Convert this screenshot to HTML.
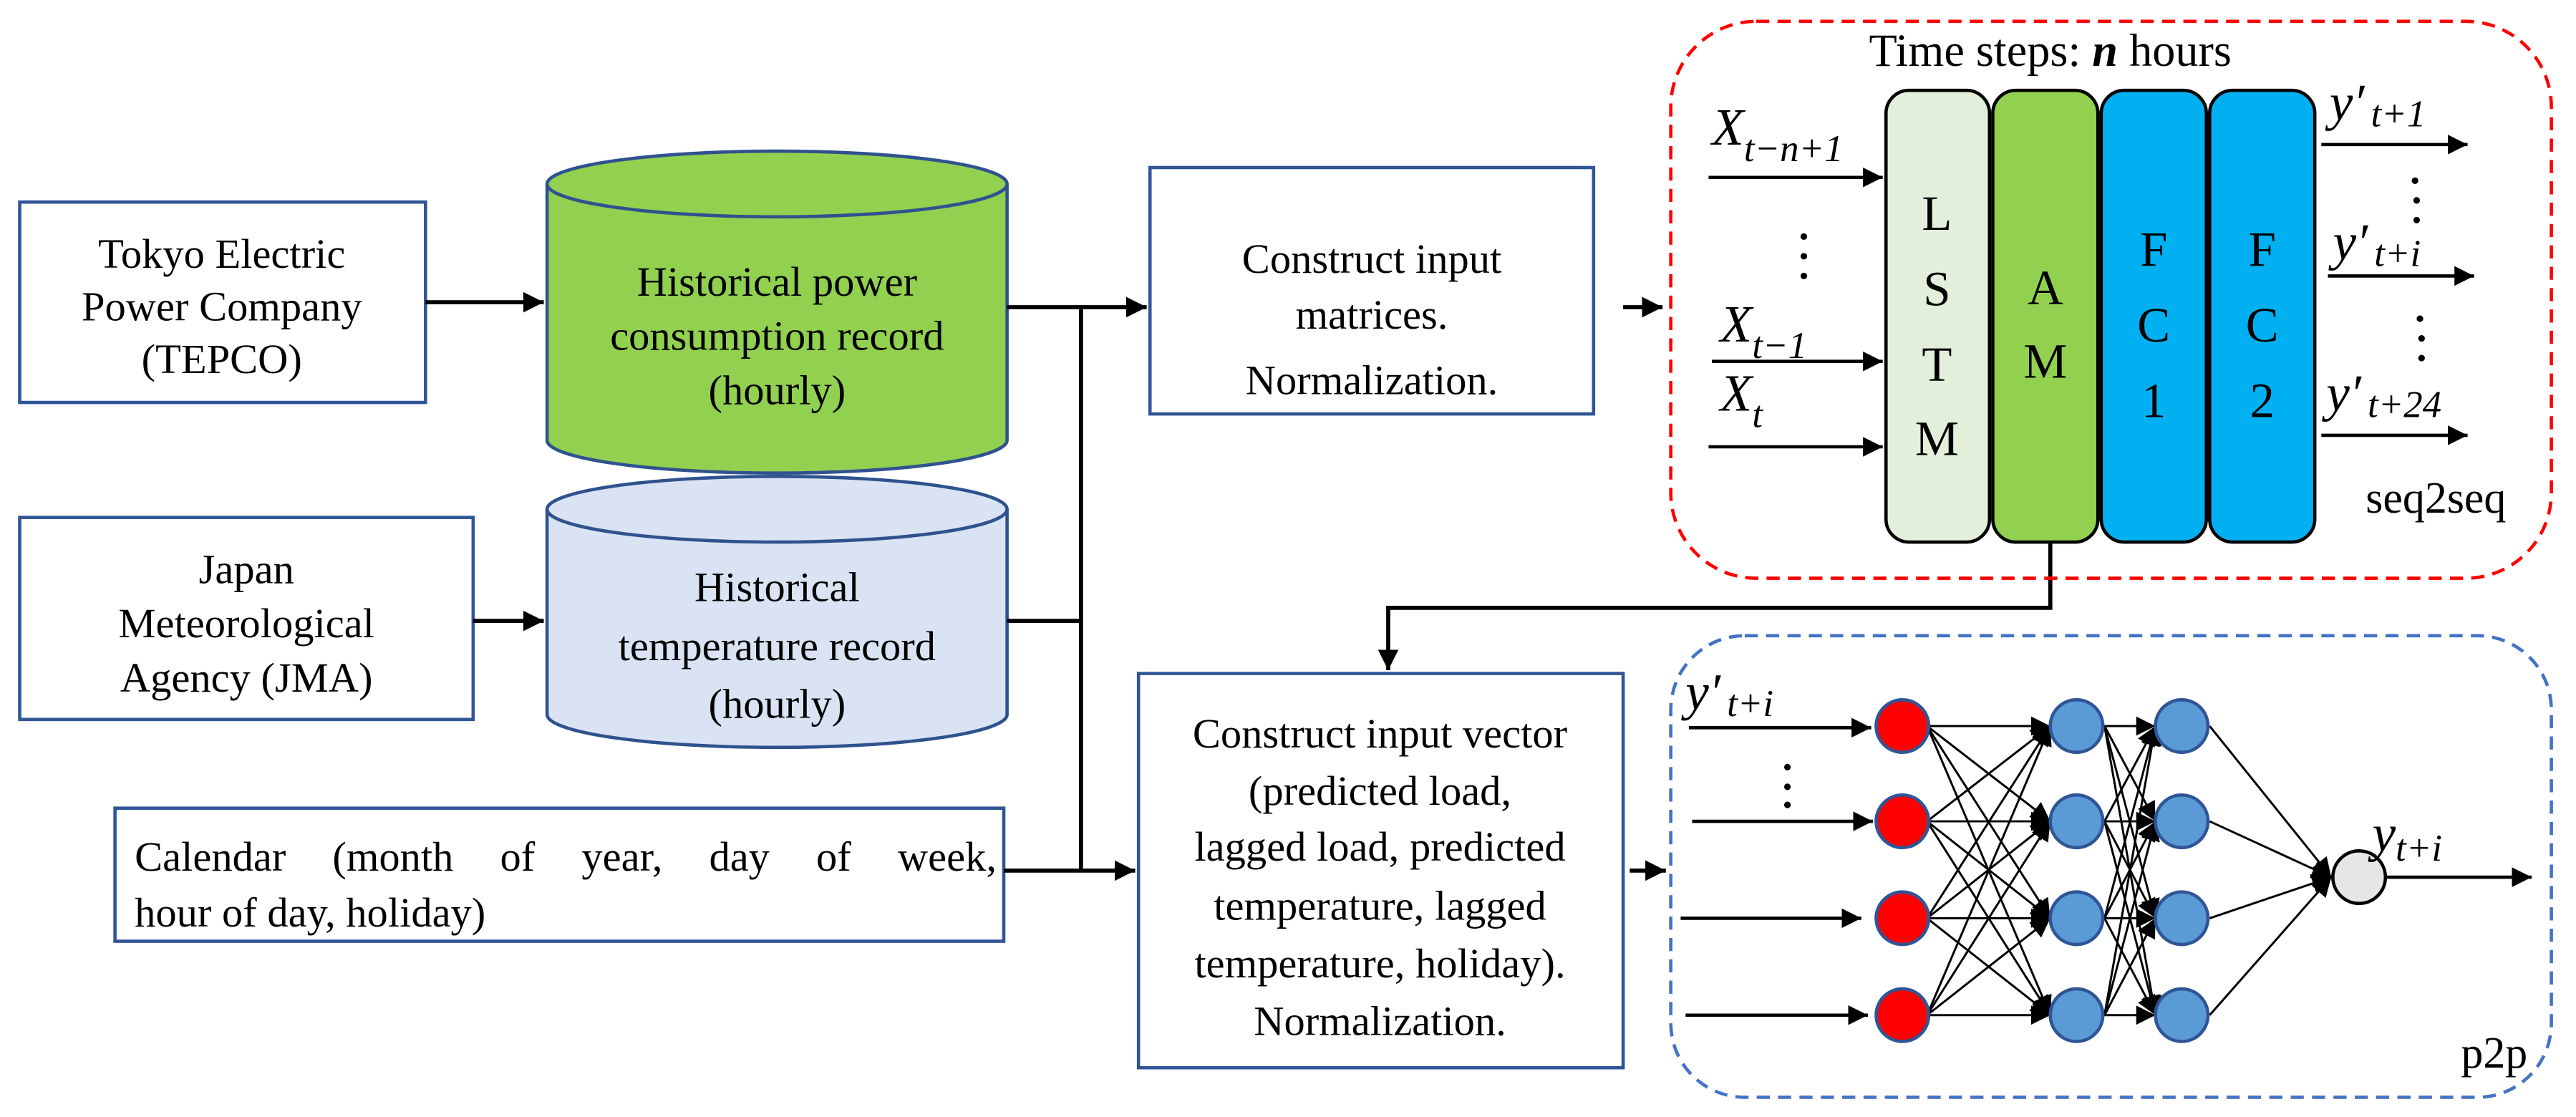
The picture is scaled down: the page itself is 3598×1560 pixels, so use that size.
<!DOCTYPE html>
<html><head><meta charset="utf-8"><style>
html,body{margin:0;padding:0;background:#fff;}
svg{display:block;}
text{font-family:"Liberation Serif",serif;fill:#000;}
.t{font-size:25.5px;}
.m{font-style:italic;font-size:32px;}
.s{font-style:italic;font-size:23px;}
</style></head><body>
<svg width="3598" height="1560" viewBox="0 0 1568 680" preserveAspectRatio="none" xmlns="http://www.w3.org/2000/svg">
<defs>
<marker id="a" viewBox="0 0 10 10" refX="10" refY="5" markerWidth="5" markerHeight="5" orient="auto" markerUnits="strokeWidth"><path d="M0,0L10,5L0,10z" fill="#000"/></marker>
<marker id="c" viewBox="0 0 10 10" refX="10" refY="5" markerWidth="6" markerHeight="6" orient="auto" markerUnits="strokeWidth"><path d="M0,0L10,5L0,10z" fill="#000"/></marker>
<marker id="b" viewBox="0 0 10 10" refX="10" refY="5" markerWidth="9" markerHeight="9" orient="auto" markerUnits="strokeWidth"><path d="M0,0L10,5L0,10z" fill="#000"/></marker>
</defs>
<rect width="1568" height="680" fill="#fff"/>
<g fill="#fff" stroke="#2f5597" stroke-width="2">
<rect x="12" y="123" width="247" height="122"/>
<rect x="12" y="315" width="276" height="123"/>
<rect x="70" y="492" width="541" height="81"/>
<rect x="700" y="102" width="270" height="150"/>
<rect x="693" y="410" width="295" height="240"/>
</g>
<g class="t" text-anchor="middle">
<text x="135" y="163">Tokyo Electric</text><text x="135" y="195">Power Company</text><text x="135" y="227">(TEPCO)</text>
<text x="150" y="355">Japan</text><text x="150" y="388">Meteorological</text><text x="150" y="421">Agency (JMA)</text>
<text x="835" y="166">Construct input</text><text x="835" y="200">matrices.</text><text x="835" y="240">Normalization.</text>
<text x="840" y="455">Construct input vector</text><text x="840" y="490">(predicted load,</text><text x="840" y="524">lagged load, predicted</text><text x="840" y="560">temperature, lagged</text><text x="840" y="595">temperature, holiday).</text><text x="840" y="630">Normalization.</text>
</g>
<text class="t" x="82" y="530" word-spacing="22">Calendar (month of year, day of week,</text>
<text class="t" x="82" y="564">hour of day, holiday)</text>
<!-- cylinders -->
<path d="M333,112 V268 A140,20 0 0 0 613,268 V112" fill="#92d050" stroke="#2f528f" stroke-width="2"/>
<ellipse cx="473" cy="112" rx="140" ry="20" fill="#92d050" stroke="#2f528f" stroke-width="2"/>
<path d="M333,310 V435 A140,20 0 0 0 613,435 V310" fill="#dae3f3" stroke="#2f528f" stroke-width="2"/>
<ellipse cx="473" cy="310" rx="140" ry="20" fill="#dae3f3" stroke="#2f528f" stroke-width="2"/>
<g class="t" text-anchor="middle">
<text x="473" y="180">Historical power</text><text x="473" y="213">consumption record</text><text x="473" y="246">(hourly)</text>
<text x="473" y="366">Historical</text><text x="473" y="402">temperature record</text><text x="473" y="437">(hourly)</text>
</g>
<!-- connectors -->
<g stroke="#000" stroke-width="2.5" fill="none">
<line x1="259" y1="184" x2="331" y2="184" marker-end="url(#a)"/>
<line x1="288" y1="378" x2="331" y2="378" marker-end="url(#a)"/>
<line x1="613" y1="187" x2="698" y2="187" marker-end="url(#a)"/>
<line x1="658" y1="187" x2="658" y2="530"/>
<line x1="613" y1="378" x2="658" y2="378"/>
<line x1="611" y1="530" x2="691" y2="530" marker-end="url(#a)"/>
<line x1="988" y1="187" x2="1012" y2="187" marker-end="url(#a)"/>
<polyline points="1248,330 1248,370 845,370 845,408" marker-end="url(#a)"/>
<line x1="992" y1="530" x2="1014" y2="530" marker-end="url(#a)"/>
</g>
<!-- dashed boxes -->
<rect x="1017" y="13" width="536" height="339" rx="52" fill="none" stroke="#ff0000" stroke-width="2" stroke-dasharray="8,5"/>
<rect x="1017" y="387" width="536" height="281" rx="45" fill="none" stroke="#4472c4" stroke-width="2" stroke-dasharray="8,5"/>
<!-- seq2seq -->
<text x="1248" y="40" text-anchor="middle" style="font-size:28px">Time steps: <tspan font-style="italic" font-weight="bold">n</tspan> hours</text>
<g stroke="#000" stroke-width="2">
<rect x="1148" y="55" width="63" height="275" rx="14" fill="#e2efda"/>
<rect x="1213" y="55" width="64" height="275" rx="14" fill="#92d050"/>
<rect x="1279" y="55" width="64" height="275" rx="14" fill="#00b0f0"/>
<rect x="1345" y="55" width="64" height="275" rx="14" fill="#00b0f0"/>
</g>
<g class="t" text-anchor="middle" style="font-size:30px">
<text x="1179" y="140">L</text><text x="1179" y="186">S</text><text x="1179" y="232">T</text><text x="1179" y="277">M</text>
<text x="1245" y="185">A</text><text x="1245" y="230">M</text>
<text x="1311" y="162">F</text><text x="1311" y="208">C</text><text x="1311" y="254">1</text>
<text x="1377" y="162">F</text><text x="1377" y="208">C</text><text x="1377" y="254">2</text>
</g>
<g stroke="#000" stroke-width="2" fill="none">
<line x1="1040" y1="108" x2="1146" y2="108" marker-end="url(#c)"/>
<line x1="1042" y1="220" x2="1146" y2="220" marker-end="url(#c)"/>
<line x1="1040" y1="272" x2="1146" y2="272" marker-end="url(#c)"/>
<line x1="1413" y1="88" x2="1502" y2="88" marker-end="url(#c)"/>
<line x1="1417" y1="168" x2="1506" y2="168" marker-end="url(#c)"/>
<line x1="1413" y1="265" x2="1502" y2="265" marker-end="url(#c)"/>
</g>
<g fill="#000">
<circle cx="1098" cy="144" r="2"/><circle cx="1098" cy="156" r="2"/><circle cx="1098" cy="168" r="2"/>
<circle cx="1470" cy="110" r="2"/><circle cx="1471" cy="122" r="2"/><circle cx="1471" cy="134" r="2"/>
<circle cx="1473" cy="194" r="2"/><circle cx="1474" cy="206" r="2"/><circle cx="1474" cy="218" r="2"/>
</g>
<text class="m" x="1042" y="88">X<tspan class="s" dy="10">t−n+1</tspan></text>
<text class="m" x="1047" y="208">X<tspan class="s" dy="10">t−1</tspan></text>
<text class="m" x="1047" y="250">X<tspan class="s" dy="10">t</tspan></text>
<text class="m" x="1418" y="73">y′<tspan class="s" dx="4" dy="4">t+1</tspan></text>
<text class="m" x="1420" y="158">y′<tspan class="s" dx="4" dy="4">t+i</tspan></text>
<text class="m" x="1416" y="250">y′<tspan class="s" dx="4" dy="4">t+24</tspan></text>
<text x="1440" y="312" style="font-size:27px">seq2seq</text>
<!-- p2p network -->
<g stroke="#000" stroke-width="1.3" fill="none">
<g marker-end="url(#b)">
<line x1="1173" y1="442" x2="1248" y2="442"/><line x1="1173" y1="442" x2="1248" y2="500"/><line x1="1173" y1="442" x2="1248" y2="559"/><line x1="1173" y1="442" x2="1248" y2="618"/>
<line x1="1173" y1="500" x2="1248" y2="442"/><line x1="1173" y1="500" x2="1248" y2="500"/><line x1="1173" y1="500" x2="1248" y2="559"/><line x1="1173" y1="500" x2="1248" y2="618"/>
<line x1="1173" y1="559" x2="1248" y2="442"/><line x1="1173" y1="559" x2="1248" y2="500"/><line x1="1173" y1="559" x2="1248" y2="559"/><line x1="1173" y1="559" x2="1248" y2="618"/>
<line x1="1173" y1="618" x2="1248" y2="442"/><line x1="1173" y1="618" x2="1248" y2="500"/><line x1="1173" y1="618" x2="1248" y2="559"/><line x1="1173" y1="618" x2="1248" y2="618"/>
<line x1="1281" y1="442" x2="1312" y2="442"/><line x1="1281" y1="442" x2="1312" y2="500"/><line x1="1281" y1="442" x2="1312" y2="559"/><line x1="1281" y1="442" x2="1312" y2="618"/>
<line x1="1281" y1="500" x2="1312" y2="442"/><line x1="1281" y1="500" x2="1312" y2="500"/><line x1="1281" y1="500" x2="1312" y2="559"/><line x1="1281" y1="500" x2="1312" y2="618"/>
<line x1="1281" y1="559" x2="1312" y2="442"/><line x1="1281" y1="559" x2="1312" y2="500"/><line x1="1281" y1="559" x2="1312" y2="559"/><line x1="1281" y1="559" x2="1312" y2="618"/>
<line x1="1281" y1="618" x2="1312" y2="442"/><line x1="1281" y1="618" x2="1312" y2="500"/><line x1="1281" y1="618" x2="1312" y2="559"/><line x1="1281" y1="618" x2="1312" y2="618"/>
<line x1="1345" y1="442" x2="1419" y2="534"/><line x1="1345" y1="500" x2="1419" y2="534"/><line x1="1345" y1="559" x2="1419" y2="534"/><line x1="1345" y1="618" x2="1419" y2="534"/>
</g>
</g>
<g stroke="#000" stroke-width="2" fill="none">
<line x1="1028" y1="443" x2="1139" y2="443" marker-end="url(#c)"/>
<line x1="1030" y1="500" x2="1140" y2="500" marker-end="url(#c)"/>
<line x1="1023" y1="559" x2="1133" y2="559" marker-end="url(#c)"/>
<line x1="1026" y1="618" x2="1137" y2="618" marker-end="url(#c)"/>
<line x1="1453" y1="534" x2="1541" y2="534" marker-end="url(#c)"/>
</g>
<g fill="#000"><circle cx="1088" cy="467" r="2"/><circle cx="1088" cy="479" r="2"/><circle cx="1088" cy="490" r="2"/></g>
<g stroke="#2f5597" stroke-width="2">
<ellipse cx="1158" cy="442" rx="16" ry="16" fill="#ff0000"/><ellipse cx="1158" cy="500" rx="16" ry="16" fill="#ff0000"/><ellipse cx="1158" cy="559" rx="16" ry="16" fill="#ff0000"/><ellipse cx="1158" cy="618" rx="16" ry="16" fill="#ff0000"/>
<ellipse cx="1264" cy="442" rx="16" ry="16" fill="#5b9bd5"/><ellipse cx="1264" cy="500" rx="16" ry="16" fill="#5b9bd5"/><ellipse cx="1264" cy="559" rx="16" ry="16" fill="#5b9bd5"/><ellipse cx="1264" cy="618" rx="16" ry="16" fill="#5b9bd5"/>
<ellipse cx="1328" cy="442" rx="16" ry="16" fill="#5b9bd5"/><ellipse cx="1328" cy="500" rx="16" ry="16" fill="#5b9bd5"/><ellipse cx="1328" cy="559" rx="16" ry="16" fill="#5b9bd5"/><ellipse cx="1328" cy="618" rx="16" ry="16" fill="#5b9bd5"/>
</g>
<ellipse cx="1436" cy="534" rx="16" ry="16" fill="#e7e6e6" stroke="#000" stroke-width="2"/>
<text class="m" x="1026" y="432">y′<tspan class="s" dx="4" dy="4">t+i</tspan></text>
<text class="m" x="1444" y="518">y<tspan class="s" dy="6">t+i</tspan></text>
<text x="1498" y="650" style="font-size:27px">p2p</text>
</svg>
</body></html>
